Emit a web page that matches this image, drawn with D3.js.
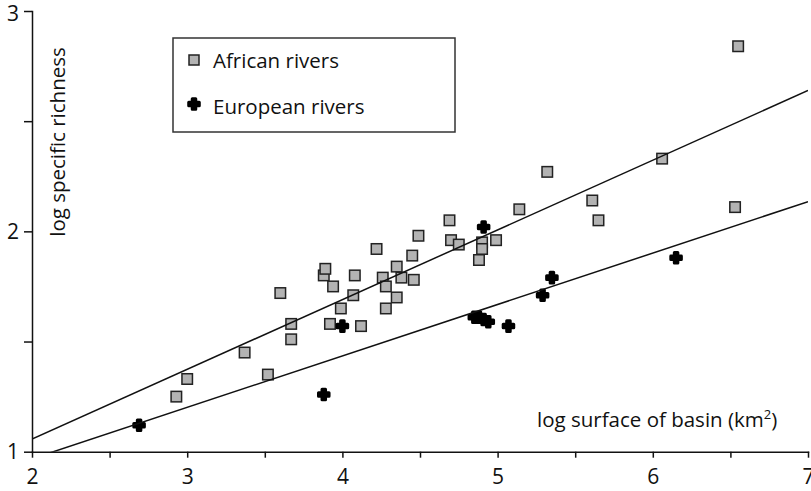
<!DOCTYPE html>
<meta charset="utf-8">
<head>
<style>
  body { margin: 0; background: #fff; }
  svg { font-family: 'Open Sans', sans-serif; display: block; }
  .axis path, .axis line { stroke: #111; stroke-width: 1.5px; }
  .axis text { font-size: 21px; fill: #111; font-family: 'Open Sans', sans-serif; }
  .fit { stroke: #111; stroke-width: 1.5px; fill: none; }
  .africa { fill: #b3b3b3; stroke: #222; stroke-width: 1.5px; }
  .europe { fill: #000; stroke: #000; stroke-width: 3px; stroke-linejoin: round; }
  .label { font-size: 20.5px; fill: #111; }
</style>
</head>
<body>
<svg width="811" height="491"></svg>
<script src="https://d3js.org/d3.v7.min.js"></script>
<script>

// log surface of basin (x) and log specific richness (y)
var africaX = [2.93, 3.00, 3.37, 3.52, 3.60, 3.67, 3.67, 3.88, 3.89, 3.94,
               3.92, 3.99, 4.07, 4.08, 4.12, 4.22, 4.26, 4.28, 4.28, 4.35,
               4.38, 4.35, 4.46, 4.45, 4.49, 4.69, 4.70, 4.75, 4.90, 4.90,
               4.88, 4.99, 5.14, 5.32, 5.61, 5.65, 6.06, 6.55, 6.53];
var africaY = [1.25, 1.33, 1.45, 1.35, 1.72, 1.58, 1.51, 1.80, 1.83, 1.75,
               1.58, 1.65, 1.71, 1.80, 1.57, 1.92, 1.79, 1.75, 1.65, 1.84,
               1.79, 1.70, 1.78, 1.89, 1.98, 2.05, 1.96, 1.94, 1.95, 1.92,
               1.87, 1.96, 2.10, 2.27, 2.14, 2.05, 2.33, 2.84, 2.11];

var europeX = [2.69, 3.88, 4.00, 4.85, 4.88, 4.91, 4.94, 4.91, 5.07, 5.29, 5.35, 6.15];
var europeY = [1.12, 1.26, 1.57, 1.61, 1.61, 1.60, 1.59, 2.02, 1.57, 1.71, 1.79, 1.88];

// regression lines: [africa, europe]
var fitIntercept = [0.425, 0.501];   // y at x = 0
var fitSlope = [0.3163, 0.2334];

var xTicks = [2, 2.5, 3, 3.5, 4, 4.5, 5, 5.5, 6, 6.5, 7];
var yTicks = [1, 1.5, 2, 2.5, 3];
var legendNames = ["African rivers", "European rivers"];

var svg = d3.select("svg");

var x = d3.scaleLinear().domain([2, 7]).range([32, 808]);
var y = d3.scaleLinear().domain([1, 3]).range([451.7, 11]);

svg.append("defs").append("clipPath").attr("id", "plot")
  .append("rect")
  .attr("x", x(2)).attr("y", y(3))
  .attr("width", x(7) - x(2)).attr("height", y(1) - y(3));

// axes
svg.append("g")
  .attr("class", "axis")
  .attr("transform", "translate(0," + y(1) + ")")
  .call(d3.axisBottom(x).tickValues(xTicks).tickSize(6).tickSizeOuter(0).tickPadding(11)
    .tickFormat(function(d) { return d % 1 === 0 ? d : ""; }));

var ya = svg.append("g")
  .attr("class", "axis")
  .attr("transform", "translate(" + x(2) + ",0)")
  .call(d3.axisLeft(y).tickValues(yTicks).tickSize(8).tickSizeOuter(0).tickPadding(5)
    .tickFormat(function(d) { return d % 1 === 0 ? d : ""; }));

// keep the top label inside the page
ya.selectAll(".tick text").filter(function(d) { return d === 3; }).attr("dy", "0.45em");

svg.selectAll(".axis .domain").attr("stroke-linecap", "square");

// points
var sq = 10.5;
svg.append("g").selectAll("rect")
  .data(africaX.map(function(d, i) { return [d, africaY[i]]; }))
  .enter().append("rect")
    .attr("class", "africa")
    .attr("x", function(d) { return x(d[0]) - sq / 2; })
    .attr("y", function(d) { return y(d[1]) - sq / 2; })
    .attr("width", sq).attr("height", sq);

var cross = d3.symbol().type(d3.symbolCross).size(62);
svg.append("g").selectAll("path")
  .data(europeX.map(function(d, i) { return [d, europeY[i]]; }))
  .enter().append("path")
    .attr("class", "europe")
    .attr("d", cross)
    .attr("transform", function(d) { return "translate(" + x(d[0]) + "," + y(d[1]) + ")"; });

// fitted lines, clipped to the plot area
svg.append("g").attr("clip-path", "url(#plot)")
  .selectAll("line")
  .data(fitSlope)
  .enter().append("line")
    .attr("class", "fit")
    .attr("x1", x(2))
    .attr("y1", function(d, i) { return y(fitIntercept[i] + d * 2); })
    .attr("x2", x(7))
    .attr("y2", function(d, i) { return y(fitIntercept[i] + d * 7); });

// axis titles
svg.append("text")
  .attr("class", "label")
  .attr("transform", "translate(65,142) rotate(-90)")
  .attr("text-anchor", "middle")
  .text("log specific richness");

var xl = svg.append("text")
  .attr("class", "label")
  .attr("x", 537).attr("y", 427);
xl.append("tspan").text("log surface of basin (km");
xl.append("tspan").attr("dy", -8).style("font-size", "13px").text("2");
xl.append("tspan").attr("dy", 8).text(")");

// legend
var lg = svg.append("g");
lg.append("rect")
  .attr("x", 173).attr("y", 38).attr("width", 282).attr("height", 94)
  .attr("fill", "#fff").attr("stroke", "#333").attr("stroke-width", 1.5);

lg.append("rect")
  .attr("class", "africa")
  .attr("x", 194 - 5).attr("y", 60 - 5).attr("width", 10).attr("height", 10);
lg.append("path")
  .attr("class", "europe")
  .attr("d", cross)
  .attr("transform", "translate(194,104)");

lg.selectAll("text.leg")
  .data(legendNames)
  .enter().append("text")
    .attr("class", "label leg")
    .attr("x", 213)
    .attr("y", function(d, i) { return 67.5 + i * 46.5; })
    .text(function(d) { return d; });

</script>
</body>
